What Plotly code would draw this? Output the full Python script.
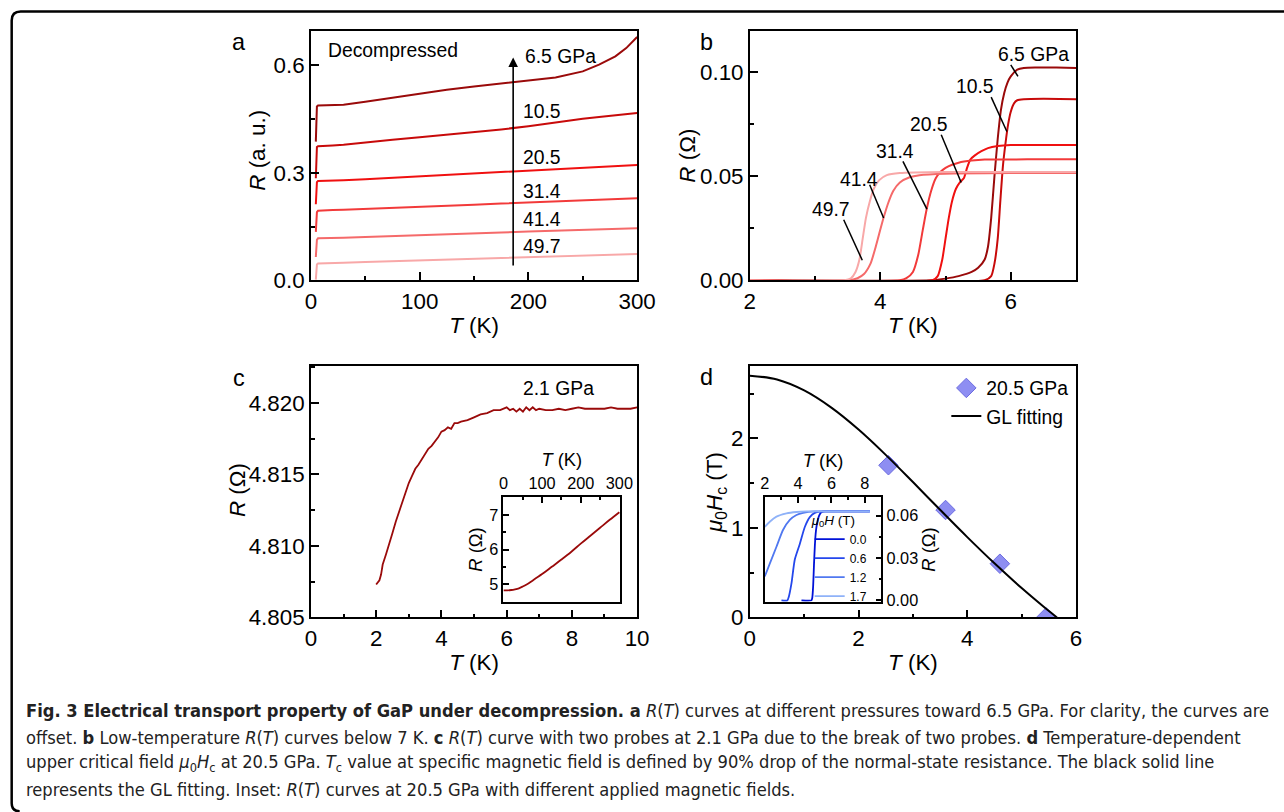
import plotly.graph_objects as go

W, H = 1284, 812
FONT = "Liberation Sans, Arial, sans-serif"

# ---------------- Panel a data: R(T) 0-300 K, offset curves ----------------
a_pressures = ["6.5", "10.5", "20.5", "31.4", "41.4", "49.7"]
a_T = [4.5, 5.5, 6.5, 10, 20, 30, 50, 75, 100, 125, 150, 175, 200, 225, 250, 265, 280, 290, 300]
a_R_65 = [0.387, 0.485, 0.488, 0.488, 0.488, 0.490, 0.498, 0.510, 0.522, 0.532, 0.541, 0.549, 0.556, 0.566, 0.583, 0.602, 0.625, 0.648, 0.679]
a_R_105 = [0.285, 0.372, 0.374, 0.375, 0.376, 0.378, 0.385, 0.392, 0.399, 0.406, 0.413, 0.421, 0.430, 0.441, 0.451, 0.456, 0.461, 0.464, 0.467]
a_R_205 = [0.212, 0.274, 0.277, 0.277, 0.278, 0.279, 0.282, 0.286, 0.290, 0.294, 0.298, 0.303, 0.307, 0.311, 0.315, 0.318, 0.320, 0.321, 0.322]
a_R_314 = [0.135, 0.190, 0.194, 0.195, 0.196, 0.197, 0.199, 0.202, 0.205, 0.208, 0.211, 0.214, 0.217, 0.220, 0.223, 0.225, 0.227, 0.228, 0.229]
a_R_414 = [0.065, 0.113, 0.117, 0.117, 0.118, 0.119, 0.121, 0.123, 0.126, 0.128, 0.131, 0.133, 0.136, 0.138, 0.140, 0.142, 0.143, 0.144, 0.145]
a_R_497 = [0.002, 0.044, 0.047, 0.047, 0.048, 0.049, 0.051, 0.053, 0.055, 0.057, 0.059, 0.061, 0.063, 0.065, 0.067, 0.069, 0.071, 0.072, 0.073]
a_label_T = [195, 193, 193, 193, 193, 193]
a_label_R = [0.625, 0.471, 0.342, 0.247, 0.170, 0.093]

# ---------------- Panel b data: low-temperature R(T) ----------------
b_T_65 = [2.0, 4.8, 5.0, 5.2, 5.4, 5.5, 5.6, 5.65, 5.7, 5.75, 5.8, 5.85, 5.9, 5.95, 6.0, 6.1, 6.2, 6.4, 6.7, 7.0]
b_R_65 = [0.0, 0.0, 0.0008, 0.002, 0.004, 0.006, 0.010, 0.016, 0.030, 0.050, 0.068, 0.082, 0.090, 0.095, 0.098, 0.1012, 0.102, 0.1022, 0.1022, 0.102]
b_T_105 = [2.0, 5.6, 5.7, 5.75, 5.8, 5.84, 5.88, 5.92, 5.96, 6.0, 6.05, 6.1, 6.2, 6.5, 7.0]
b_R_105 = [0.0, 0.0, 0.002, 0.008, 0.020, 0.038, 0.055, 0.066, 0.075, 0.081, 0.085, 0.0865, 0.087, 0.0872, 0.087]
b_T_205 = [2.0, 4.8, 4.88, 4.95, 5.0, 5.05, 5.1, 5.16, 5.22, 5.28, 5.33, 5.38, 5.45, 5.55, 5.65, 5.8, 6.0, 6.5, 7.0]
b_R_205 = [0.0, 0.0, 0.002, 0.010, 0.020, 0.030, 0.038, 0.044, 0.047, 0.049, 0.054, 0.058, 0.060, 0.062, 0.0635, 0.0645, 0.065, 0.065, 0.065]
b_T_314 = [2.0, 4.3, 4.4, 4.5, 4.58, 4.65, 4.71, 4.78, 4.85, 4.92, 5.0, 5.1, 5.2, 5.4, 5.6, 6.0, 6.5, 7.0]
b_R_314 = [0.0, 0.0, 0.001, 0.004, 0.012, 0.024, 0.034, 0.043, 0.049, 0.052, 0.054, 0.0555, 0.0565, 0.0575, 0.058, 0.058, 0.0582, 0.0582]
b_T_414 = [2.0, 3.5, 3.65, 3.75, 3.85, 3.92, 3.98, 4.05, 4.12, 4.2, 4.3, 4.45, 4.6, 5.0, 6.0, 7.0]
b_R_414 = [0.0, 0.0, 0.001, 0.003, 0.008, 0.015, 0.022, 0.030, 0.037, 0.043, 0.047, 0.0495, 0.0505, 0.0512, 0.0515, 0.0515]
b_T_497 = [2.0, 3.45, 3.55, 3.62, 3.68, 3.73, 3.78, 3.84, 3.9, 3.98, 4.1, 4.3, 5.0, 6.0, 7.0]
b_R_497 = [0.0, 0.0, 0.001, 0.004, 0.010, 0.020, 0.030, 0.038, 0.044, 0.048, 0.0505, 0.0515, 0.052, 0.052, 0.052]
b_label_T = [6.35, 5.45, 4.745, 4.22, 3.67, 3.245]
b_label_R = [0.1086, 0.0931, 0.0747, 0.0619, 0.0486, 0.0339]
b_lead_T0 = [6.00, 5.70, 4.934, 4.347, 3.837, 3.439]
b_lead_R0 = [0.1035, 0.0880, 0.0699, 0.0571, 0.0459, 0.0291]
b_lead_T1 = [6.11, 5.94, 5.240, 4.714, 4.051, 3.724]
b_lead_R1 = [0.0980, 0.0715, 0.0470, 0.0342, 0.0299, 0.0096]

# ---------------- Panel c data: 2.1 GPa ----------------
c_T = [2.0, 2.1, 2.15, 2.2, 2.3, 2.4, 2.5, 2.6, 2.7, 2.8, 2.9, 3.0, 3.1, 3.2, 3.3, 3.4, 3.5, 3.6, 3.7, 3.8, 3.9, 4.0,
       4.1, 4.2, 4.3, 4.4, 4.5, 4.6, 4.8, 5.0, 5.2, 5.4, 5.6, 5.8, 6.0, 6.1, 6.2, 6.3, 6.4, 6.5, 6.6, 6.7, 6.8, 6.9,
       7.0, 7.2, 7.4, 7.6, 7.8, 8.0, 8.2, 8.4, 8.6, 8.8, 9.0, 9.2, 9.4, 9.6, 9.8, 10.0]
c_R = [4.8073, 4.8076, 4.8080, 4.8087, 4.8094, 4.8101, 4.8109, 4.8117, 4.8124, 4.8131, 4.8138, 4.8144, 4.8149,
       4.8154, 4.8157, 4.8161, 4.8165, 4.8168, 4.8170, 4.8173, 4.8176, 4.8180, 4.8181, 4.8183, 4.8182, 4.8186,
       4.8186, 4.8187, 4.8188, 4.8190, 4.8192, 4.8193, 4.8195, 4.8195, 4.8197, 4.8195, 4.8196, 4.8194, 4.8196,
       4.8194, 4.8197, 4.8195, 4.8197, 4.8195, 4.8196, 4.8195, 4.8195, 4.8196, 4.8195, 4.8196, 4.8197, 4.8196,
       4.8196, 4.8196, 4.8196, 4.8197, 4.8196, 4.8196, 4.8196, 4.8197]
ci_T = [0, 10, 20, 30, 40, 50, 60, 75, 100, 125, 150, 175, 200, 225, 250, 275, 300]
ci_R = [4.82, 4.82, 4.83, 4.85, 4.88, 4.93, 4.99, 5.10, 5.29, 5.50, 5.71, 5.93, 6.17, 6.40, 6.63, 6.86, 7.08]

# ---------------- Panel d data: upper critical field ----------------
d_T = [2.55, 3.6, 4.6, 5.45]
d_H = [1.70, 1.20, 0.60, 0.00]
gl_T = [0.0, 0.5, 1.0, 1.5, 2.0, 2.5, 3.0, 3.5, 4.0, 4.5, 5.0, 5.4, 5.65]
gl_H = [2.70, 2.658, 2.536, 2.344, 2.099, 1.816, 1.512, 1.202, 0.897, 0.604, 0.328, 0.122, 0.0]
di_fields = ["0.0", "0.6", "1.2", "1.7"]
di_T_00 = [4.2, 4.8, 4.85, 4.9, 4.95, 5.0, 5.05, 5.1, 5.2, 5.3, 5.4, 5.6, 6.5, 7.5, 8.3]
di_R_00 = [0.0, 0.0, 0.002, 0.010, 0.025, 0.038, 0.047, 0.052, 0.058, 0.061, 0.0625, 0.063, 0.063, 0.063, 0.063]
di_T_06 = [3.0, 3.35, 3.45, 3.6, 3.8, 4.1, 4.4, 4.7, 5.0, 5.5, 6.5, 7.5, 8.3]
di_R_06 = [0.0, 0.0, 0.003, 0.012, 0.029, 0.040, 0.052, 0.059, 0.062, 0.063, 0.063, 0.063, 0.063]
di_T_12 = [2.0, 2.3, 2.7, 3.1, 3.5, 3.9, 4.3, 5.0, 6.0, 7.0, 8.3]
di_R_12 = [0.017, 0.026, 0.038, 0.050, 0.057, 0.0605, 0.062, 0.063, 0.063, 0.063, 0.063]
di_T_17 = [2.0, 2.3, 2.7, 3.3, 3.9, 4.5, 5.5, 6.5, 7.5, 8.3]
di_R_17 = [0.052, 0.0557, 0.0593, 0.0616, 0.0626, 0.063, 0.063, 0.063, 0.063, 0.063]

RED_COLORS = ["#9a0a0a", "#c80a0a", "#f01010", "#f23a3a", "#f56a6a", "#f8a8a8"]
BLUE_COLORS = ["#0012d8", "#2447ec", "#5078f0", "#8fb2f8"]

# The photographed page appears slightly scaled; positions below are given in
# target (photo) pixels and converted to paper fractions here.
SC, OX, OY = 0.983, 4.3, 0.5
FS = 1 / SC


def px_x(p):
    return (p - OX) / SC / W


def px_y(p):
    return 1 - (p - OY) / SC / H


def fs(size):
    return round(size * FS, 2)


fig = go.Figure()

a_series = [a_R_65, a_R_105, a_R_205, a_R_314, a_R_414, a_R_497]
for R, col in zip(a_series, RED_COLORS):
    fig.add_trace(go.Scatter(x=a_T, y=R, mode="lines", line=dict(color=col, width=2),
                             xaxis="x", yaxis="y", showlegend=False))
b_series = [(b_T_65, b_R_65), (b_T_105, b_R_105), (b_T_205, b_R_205),
            (b_T_314, b_R_314), (b_T_414, b_R_414), (b_T_497, b_R_497)]
for (T, R), col in zip(b_series, RED_COLORS):
    fig.add_trace(go.Scatter(x=T, y=R, mode="lines", line=dict(color=col, width=2, shape="spline", smoothing=0.6),
                             xaxis="x2", yaxis="y2", showlegend=False))
fig.add_trace(go.Scatter(x=c_T, y=c_R, mode="lines", line=dict(color="#9a0a0a", width=1.8),
                         xaxis="x3", yaxis="y3", showlegend=False))
fig.add_trace(go.Scatter(x=ci_T, y=ci_R, mode="lines", line=dict(color="#9a0a0a", width=1.8, shape="spline"),
                         xaxis="x5", yaxis="y5", showlegend=False))
fig.add_trace(go.Scatter(x=d_T, y=d_H, mode="markers", name="20.5 GPa",
                         marker=dict(symbol="diamond", size=15, color="#8e8ef2",
                                     line=dict(color="#6c6ce0", width=1)),
                         xaxis="x4", yaxis="y4", legend="legend"))
fig.add_trace(go.Scatter(x=gl_T, y=gl_H, mode="lines", name="GL fitting",
                         line=dict(color="black", width=2, shape="spline"),
                         xaxis="x4", yaxis="y4", legend="legend"))
di_series = [(di_T_00, di_R_00), (di_T_06, di_R_06), (di_T_12, di_R_12), (di_T_17, di_R_17)]
for (T, R), col, name in zip(di_series, BLUE_COLORS, di_fields):
    fig.add_trace(go.Scatter(x=T, y=R, mode="lines", name=name,
                             line=dict(color=col, width=1.8, shape="spline", smoothing=0.6),
                             xaxis="x6", yaxis="y6", legend="legend2"))


def axis_style(size=22, ticklen=8):
    return dict(showline=True, linecolor="black", linewidth=1.6, mirror=True,
                ticks="inside", ticklen=ticklen, tickwidth=1.5, tickcolor="black",
                showgrid=False, zeroline=False,
                tickfont=dict(family=FONT, size=fs(size), color="black"))


def minor(dt, length=4):
    return dict(ticks="inside", ticklen=length, tickwidth=1.5, tickcolor="black", dtick=dt, showgrid=False)


def xtitle(text, size=22, standoff=4):
    return dict(text=text, font=dict(family=FONT, size=fs(size), color="black"), standoff=standoff)


dom_ax = [px_x(310), px_x(637)]
dom_bx = [px_x(750), px_x(1077)]
dom_top = [px_y(280.5), px_y(31)]
dom_bot = [px_y(617.3), px_y(366)]

fig.update_layout(
    xaxis=dict(domain=dom_ax, anchor="y", range=[0, 300], dtick=100, minor=minor(50),
               title=xtitle("<i>T</i> (K)"), **axis_style()),
    yaxis=dict(domain=dom_top, anchor="x", range=[0, 0.697], dtick=0.3, tickformat=".1f",
               minor=minor(0.15), **axis_style()),
    xaxis2=dict(domain=dom_bx, anchor="y2", range=[2, 7], dtick=2, tick0=2, minor=minor(1),
                title=xtitle("<i>T</i> (K)"), **axis_style()),
    yaxis2=dict(domain=dom_top, anchor="x2", range=[0, 0.12], dtick=0.05, tickformat=".2f",
                minor=minor(0.025), **axis_style()),
    xaxis3=dict(domain=dom_ax, anchor="y3", range=[0, 10], dtick=2, minor=minor(1),
                title=xtitle("<i>T</i> (K)"), **axis_style()),
    yaxis3=dict(domain=dom_bot, anchor="x3", range=[4.805, 4.8226], dtick=0.005, tickformat=".3f",
                minor=minor(0.0025), **axis_style()),
    xaxis4=dict(domain=dom_bx, anchor="y4", range=[0, 6], dtick=2, minor=minor(1),
                title=xtitle("<i>T</i> (K)"), **axis_style()),
    yaxis4=dict(domain=dom_bot, anchor="x4", range=[0, 2.81], dtick=1, minor=minor(0.5), **axis_style()),
    xaxis5=dict(domain=[px_x(503), px_x(620)], anchor="y5", side="top", range=[0, 302], dtick=100,
                minor=minor(50, 3), title=xtitle("<i>T</i> (K)", 18, 2), **axis_style(16, 6)),
    yaxis5=dict(domain=[px_y(602), px_y(497)], anchor="x5", range=[4.48, 7.52], dtick=1,
                minor=minor(0.5, 3), title=xtitle("<i>R</i> (Ω)", 18, 2), **axis_style(16, 6)),
    xaxis6=dict(domain=[px_x(765), px_x(882)], anchor="y6", side="top", range=[2, 9], dtick=2, tick0=2,
                minor=minor(1, 3), title=xtitle("<i>T</i> (K)", 18, 2), **axis_style(16, 6)),
    yaxis6=dict(domain=[px_y(601.7), px_y(497.3)], anchor="x6", side="right", range=[-0.001, 0.073],
                dtick=0.03, tickformat=".2f", minor=minor(0.015, 3),
                title=xtitle("<i>R</i> (Ω)", 18, 2), **axis_style(16, 6)),
    legend=dict(x=px_x(947), y=px_y(369), xanchor="left", yanchor="top", bgcolor="rgba(0,0,0,0)",
                font=dict(family=FONT, size=fs(19), color="black"), tracegroupgap=0),
    legend2=dict(x=px_x(810), y=px_y(507), xanchor="left", yanchor="top", bgcolor="rgba(0,0,0,0)",
                 font=dict(family=FONT, size=12, color="black"),
                 title=dict(text="<i>μ</i><sub>0</sub><i>H</i> (T)", font=dict(family=FONT, size=13.5, color="black")),
                 tracegroupgap=0),
    width=W, height=H, margin=dict(l=0, r=0, t=0, b=0),
    paper_bgcolor="white", plot_bgcolor="white",
    font=dict(family=FONT, color="black"),
)

ann = []
for letter, x, y in [("a", 238, 42), ("b", 707, 42), ("c", 238, 378), ("d", 707, 377)]:
    ann.append(dict(text=letter, x=px_x(x), y=px_y(y), xref="paper", yref="paper", showarrow=False,
                    xanchor="center", yanchor="middle", font=dict(family=FONT, size=fs(23), color="black")))
for text, x, y in [("<i>R</i> (a. u.)", 257, 151), ("<i>R</i> (Ω)", 688, 156),
                   ("<i>R</i> (Ω)", 237, 490), ("<i>μ</i><sub>0</sub><i>H</i><sub>c</sub> (T)", 716, 492)]:
    ann.append(dict(text=text, x=px_x(x), y=px_y(y), xref="paper", yref="paper", showarrow=False,
                    textangle=-90, xanchor="center", yanchor="middle",
                    font=dict(family=FONT, size=fs(22), color="black")))
ann.append(dict(text="Decompressed", x=13.5, y=0.642, xref="x", yref="y", showarrow=False,
                xanchor="left", yanchor="middle", font=dict(family=FONT, size=fs(19), color="black")))
for i, p in enumerate(a_pressures):
    label = p + " GPa" if i == 0 else p
    ann.append(dict(text=label, x=a_label_T[i], y=a_label_R[i], xref="x", yref="y", showarrow=False,
                    xanchor="left", yanchor="middle", font=dict(family=FONT, size=fs(19), color="black")))
ann.append(dict(text="", x=186, y=0.622, ax=186, ay=0.037, xref="x", yref="y", axref="x", ayref="y",
                showarrow=True, arrowhead=2, arrowsize=1.2, arrowwidth=1.6, arrowcolor="black"))
for i, p in enumerate(a_pressures):
    label = p + " GPa" if i == 0 else p
    ann.append(dict(text=label, x=b_label_T[i], y=b_label_R[i], xref="x2", yref="y2", showarrow=False,
                    xanchor="center", yanchor="middle", font=dict(family=FONT, size=fs(19), color="black")))
ann.append(dict(text="2.1 GPa", x=7.6, y=4.8210, xref="x3", yref="y3", showarrow=False,
                xanchor="center", yanchor="middle", font=dict(family=FONT, size=fs(19), color="black")))

cap_lines = [
    "<b>Fig. 3 Electrical transport property of GaP under decompression. a</b> <i>R</i>(<i>T</i>) curves at different pressures toward 6.5 GPa. For clarity, the curves are",
    "offset. <b>b</b> Low-temperature <i>R</i>(<i>T</i>) curves below 7 K. <b>c</b> <i>R</i>(<i>T</i>) curve with two probes at 2.1 GPa due to the break of two probes. <b>d</b> Temperature-dependent",
    "upper critical field <i>μ</i><sub>0</sub><i>H</i><sub>c</sub> at 20.5 GPa. <i>T</i><sub>c</sub> value at specific magnetic field is defined by 90% drop of the normal-state resistance. The black solid line",
    "represents the GL fitting. Inset: <i>R</i>(<i>T</i>) curves at 20.5 GPa with different applied magnetic fields.",
]
cap_y = [710, 737, 763, 789]
for line, y in zip(cap_lines, cap_y):
    ann.append(dict(text=line, x=px_x(22), y=px_y(y), xref="paper", yref="paper", showarrow=False,
                    xanchor="left", yanchor="middle",
                    font=dict(family="Liberation Sans Narrow, DejaVu Sans Condensed, Liberation Sans",
                              size=18.15, color="#222222")))

fig.update_layout(annotations=ann)

shapes = []
for i in range(6):
    shapes.append(dict(type="line", xref="x2", yref="y2", x0=b_lead_T0[i], y0=b_lead_R0[i],
                       x1=b_lead_T1[i], y1=b_lead_R1[i], line=dict(color="black", width=1.5)))
frame = (f"M {px_x(1300)},{px_y(12)} L {px_x(19)},{px_y(12)} Q {px_x(10)},{px_y(12)} {px_x(10)},{px_y(21)} "
         f"L {px_x(10)},{px_y(803)} Q {px_x(10)},{px_y(811)} {px_x(18)},{px_y(811)}")
shapes.append(dict(type="path", xref="paper", yref="paper", path=frame, line=dict(color="black", width=2.5)))
fig.update_layout(shapes=shapes)

fig.write_html("out.html")
